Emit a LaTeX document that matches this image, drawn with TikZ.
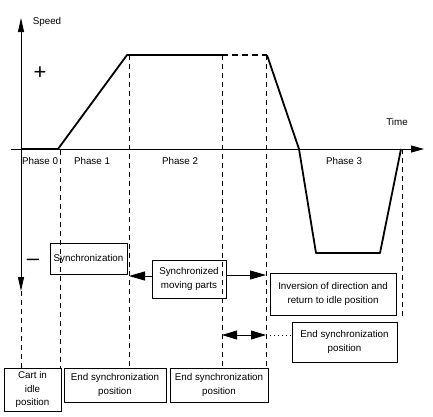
\documentclass[tikz,border=0pt]{standalone}
\usepackage{fontspec}
\setmainfont{Liberation Sans}
\usetikzlibrary{arrows.meta, positioning, calc}

\begin{document}
\begin{tikzpicture}[
  x=1pt, y=-1pt,
  font=\fontsize{9.8}{13.5}\selectfont,
  box/.style    = {draw, line width=0.8pt, align=center, inner sep=2pt},
  axis/.style   = {line width=0.8pt},
  guide/.style  = {line width=0.7pt, dash pattern=on 5pt off 4pt},
  speed/.style  = {line width=1.8pt, line join=round},
  arr/.style    = {-{Triangle[length=16pt,width=9pt]}, line width=0.8pt},
  dblarr/.style = {{Triangle[length=15pt,width=9pt]}-{Triangle[length=15pt,width=9pt]}, line width=0.8pt},
  sign/.style   = {font=\fontsize{22}{22}\selectfont, inner sep=0pt},
]
\useasboundingbox (0,0) rectangle (433,416);

%% Guide coordinates
\coordinate (g0) at (21,291);
\coordinate (g1) at (60,150);
\coordinate (g2) at (129,55);
\coordinate (g3) at (222,55);
\coordinate (g4) at (266,55);
\coordinate (g5) at (402,149);

%% Axes
\draw[axis, {Triangle[length=14pt,width=6pt]}-{Triangle[length=14pt,width=6pt]}]
  (21,18) -- (g0);
\draw[axis, -{Triangle[length=13pt,width=7pt]}] (11,149) -- (424,149);
\node (speedlbl) at (47,22) {Speed};
\node (timelbl)  at (397,122) {Time};
\node[sign] (plus)  at (40,73) {+};
\node[sign] (minus) at (33,262) {–};

%% Speed profile
\draw[speed] (21,149) -- (58,149) -- (127,55) -- (g3);
\draw[speed, dash pattern=on 6pt off 4pt] (g3) -- (267,55);
\draw[speed] (267,55) -- (299,149) -- (316,253) -- (380,253) -- (401,149);

%% Dashed guides
\foreach \g/\yb in {g0/368, g1/368, g2/368, g3/368, g4/368, g5/317}
  \draw[guide] (\g) -- (\g |- 0,\yb);

%% Phases
\foreach \x/\n in {40/0, 92/1, 180/2, 344/3}
  \node (ph\n) at (\x,161) {Phase \n};

%% Boxes
\node[box, minimum width=77pt, minimum height=31pt] (sync)   at (88.5,258.5) {Synchronization};
\node[box, minimum width=74pt, minimum height=38pt] (moving) at (189,279) {Synchronized\\moving parts};
\node[box, minimum width=126pt, minimum height=42pt] (invert) at (333,294) {Inversion of direction and\\return to idle position};
\node[box, minimum width=105pt, minimum height=40pt] (endR)  at (344.5,342) {End synchronization\\position};
\node[box, minimum width=57pt, minimum height=43pt] (cart)   at (32.5,389.5) {Cart in\\idle\\position};
\node[box, minimum width=102pt, minimum height=34pt] (end1)  at (115,385) {End synchronization\\position};
\node[box, minimum width=98pt, minimum height=34pt] (end2)   at (219,385) {End synchronization\\position};

%% Arrows
\draw[arr] ([yshift=3pt]moving.west) -- ([yshift=3pt]moving.west -| g2);
\draw[arr] ([yshift=4pt]moving.east) -- ([yshift=4pt]moving.east -| g4);
\coordinate (lvl) at (0,335);
\draw[dblarr] (g3 |- lvl) -- (g4 |- lvl);
\draw[line width=0.7pt, dash pattern=on 1pt off 3pt] (g4 |- lvl) -- (endR.west |- lvl);

\end{tikzpicture}
\end{document}
